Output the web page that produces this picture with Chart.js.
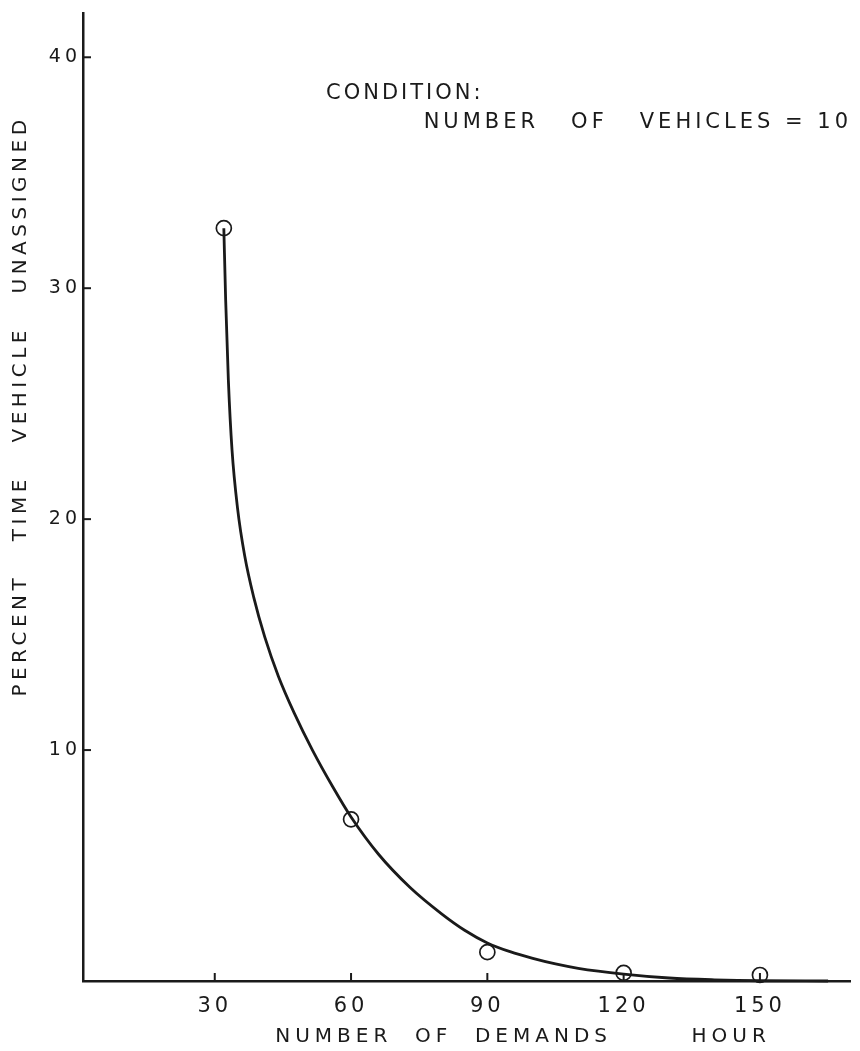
<!DOCTYPE html>
<html>
<head>
<meta charset="utf-8">
<script src="https://cdn.jsdelivr.net/npm/chart.js@4.4.1/dist/chart.umd.min.js"></script>
<style>
  html, body { margin: 0; padding: 0; background: #fff; }
  #wrap { position: relative; width: 860px; height: 1051px; }
</style>
</head>
<body>
<div id="wrap"><canvas id="chart"></canvas></div>
<script>
// Observed points (demands per hour vs percent time vehicle unassigned)
const demandPoints = [32, 60, 90, 120, 150];
const unassignedPoints = [32.6, 7.0, 1.25, 0.35, 0.26];

// Smooth curve
const curveX = [32, 32.4, 33.0, 33.8, 35.0, 36.6, 38.6, 41.0, 44.0, 47.5, 51.5, 56.0, 60.0, 66.0, 73.0, 80.0, 85.0, 90.0, 95.0, 100.0, 105.0, 110.0, 120.0, 130.0, 140.0, 150.0, 165.0];
const curveY = [32.6, 29.5, 26.0, 23.0, 20.5, 18.4, 16.6, 14.9, 13.2, 11.6, 10.0, 8.4, 7.1, 5.5, 4.05, 2.9, 2.2, 1.65, 1.27, 0.98, 0.74, 0.55, 0.3, 0.13, 0.05, 0.01, 0];

const xTicks = [30, 60, 90, 120, 150];
const yTicks = [10, 20, 30, 40];

const xTitle = 'NUMBER  OF  DEMANDS       HOUR';
const yTitle = 'PERCENT   TIME   VEHICLE   UNASSIGNED';
const noteLines = ['CONDITION:', 'NUMBER   OF   VEHICLES = 10'];

const ink = '#1a1a1a';
const face = "'DejaVu Sans', sans-serif";

// tick marks point into the plot, and the lettering is widely spaced
const lettering = {
    id: 'lettering',
    beforeDraw(chart) {
        chart.ctx.letterSpacing = '4px';
    },
    afterDraw(chart) {
        const ctx = chart.ctx;
        const area = chart.chartArea;
        const xs = chart.scales.x;
        const ys = chart.scales.y;

        ctx.save();
        ctx.strokeStyle = ink;
        ctx.lineWidth = 2;
        xTicks.forEach(v => {
            const px = xs.getPixelForValue(v);
            ctx.beginPath();
            ctx.moveTo(px, area.bottom);
            ctx.lineTo(px, area.bottom - 8);
            ctx.stroke();
        });
        yTicks.forEach(v => {
            const py = ys.getPixelForValue(v);
            ctx.beginPath();
            ctx.moveTo(area.left, py);
            ctx.lineTo(area.left + 8, py);
            ctx.stroke();
        });

        ctx.fillStyle = ink;
        ctx.textBaseline = 'middle';
        ctx.letterSpacing = '5px';
        ctx.font = '20px ' + face;

        ctx.textAlign = 'center';
        ctx.fillText(xTitle, 523, 1037);

        ctx.save();
        ctx.translate(21, 406);
        ctx.rotate(-Math.PI / 2);
        ctx.letterSpacing = '4.5px';
        ctx.fillText(yTitle, 0, 0);
        ctx.restore();

        ctx.font = '21px ' + face;
        ctx.letterSpacing = '3px';
        ctx.textAlign = 'left';
        ctx.fillText(noteLines[0], 326, 94);
        ctx.letterSpacing = '4px';
        ctx.textAlign = 'right';
        ctx.fillText(noteLines[1], 852, 123);
        ctx.restore();
    }
};

const ctx = document.getElementById('chart').getContext('2d');

new Chart(ctx, {
    type: 'scatter',
    data: {
        datasets: [{
            label: 'curve',
            data: curveX.map((x, i) => ({ x: x, y: curveY[i] })),
            showLine: true,
            cubicInterpolationMode: 'monotone',
            borderColor: ink,
            borderWidth: 2.8,
            pointRadius: 0,
            clip: false,
            order: 2
        }, {
            label: 'observed',
            data: demandPoints.map((x, i) => ({ x: x, y: unassignedPoints[i] })),
            showLine: false,
            pointStyle: 'circle',
            pointRadius: 7.5,
            pointBorderWidth: 1.7,
            backgroundColor: 'rgba(0,0,0,0)',
            borderColor: ink,
            clip: false,
            order: 1
        }]
    },
    options: {
        responsive: true,
        maintainAspectRatio: false,
        animation: false,
        layout: { padding: { top: 7, right: 1, left: 0, bottom: 0 } },
        plugins: {
            legend: { display: false },
            tooltip: { enabled: false }
        },
        scales: {
            x: {
                type: 'linear',
                min: 1,
                max: 170,
                afterBuildTicks: scale => { scale.ticks = xTicks.map(v => ({ value: v })); },
                afterFit: scale => { scale.height = 70; },
                grid: { display: false, drawTicks: false },
                border: { display: true, color: ink, width: 2.5 },
                ticks: {
                    color: ink,
                    padding: 13,
                    maxRotation: 0,
                    font: { family: face, size: 21 }
                }
            },
            y: {
                type: 'linear',
                min: 0,
                max: 41.9,
                afterBuildTicks: scale => { scale.ticks = yTicks.map(v => ({ value: v })); },
                afterFit: scale => { scale.width = 83; },
                grid: { display: false, drawTicks: false },
                border: { display: true, color: ink, width: 2.5 },
                ticks: {
                    color: ink,
                    padding: 2,
                    font: { family: face, size: 19 }
                }
            }
        }
    },
    plugins: [lettering]
});
</script>
</body>
</html>
